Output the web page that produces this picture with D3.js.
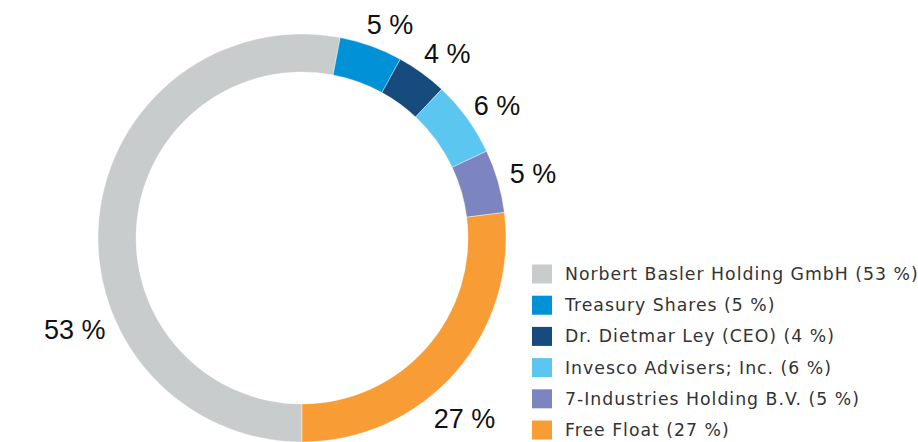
<!DOCTYPE html>
<html lang="en">
<head>
<meta charset="utf-8">
<title>Shareholder structure</title>
<script src="https://d3js.org/d3.v7.min.js"></script>
<style>
  html, body { margin: 0; padding: 0; background: #fff; }
  .slice-label { font-family: "Liberation Sans", Arial, sans-serif; font-size: 27px; fill: #111; }
  .legend-text { font-family: "DejaVu Sans", sans-serif; font-size: 17.3px; fill: #333; letter-spacing: 1px; }
</style>
</head>
<body>
<script>
  // data
  const holders = ["Norbert Basler Holding GmbH", "Treasury Shares", "Dr. Dietmar Ley (CEO)",
                   "Invesco Advisers; Inc.", "7-Industries Holding B.V.", "Free Float"];
  const shares = [53, 5, 4, 6, 5, 27];
  const colors = ["#c8cccd", "#0091d6", "#174a7d", "#5bc6f0", "#7d85c0", "#f89d35"];

  const width = 918, height = 442;
  const cx = 302, cy = 238;
  const outerR = 204, innerR = 166;

  // label placement tweaks (degrees added to slice mid angle, radius)
  const labelShift = [-27.4, 2.6, 2.2, 1.7, 0.5, 6.6];
  const labelRadius = [245, 231, 235, 236, 240, 243];

  const svg = d3.select("body").append("svg")
      .attr("width", width)
      .attr("height", height);

  const pie = d3.pie()
      .sort(null)
      .value(d => d)
      .startAngle(Math.PI)
      .endAngle(3 * Math.PI);

  const arc = d3.arc().innerRadius(innerR).outerRadius(outerR);

  const g = svg.append("g").attr("transform", `translate(${cx},${cy})`);
  const arcs = pie(shares);

  g.selectAll("path")
    .data(arcs)
    .join("path")
      .attr("d", arc)
      .attr("fill", (d, i) => colors[i])
      .attr("stroke", "#fff")
      .attr("stroke-width", 0.4);

  g.selectAll("text")
    .data(arcs)
    .join("text")
      .attr("class", "slice-label")
      .attr("text-anchor", "middle")
      .attr("dy", "0.36em")
      .attr("x", (d, i) => {
        const a = (d.startAngle + d.endAngle) / 2 + labelShift[i] * Math.PI / 180;
        return labelRadius[i] * Math.sin(a);
      })
      .attr("y", (d, i) => {
        const a = (d.startAngle + d.endAngle) / 2 + labelShift[i] * Math.PI / 180;
        return -labelRadius[i] * Math.cos(a);
      })
      .text(d => d.data + " %");

  // legend
  const legendY = d3.scalePoint().domain(holders).range([274, 430]);

  const legend = svg.append("g").selectAll("g")
    .data(holders)
    .join("g")
      .attr("transform", d => `translate(532,${legendY(d)})`);

  legend.append("rect")
      .attr("x", 0).attr("y", -9.5)
      .attr("width", 20).attr("height", 19)
      .attr("fill", (d, i) => colors[i]);

  legend.append("text")
      .attr("class", "legend-text")
      .attr("x", 33)
      .attr("dy", "0.35em")
      .text((d, i) => `${d} (${shares[i]} %)`);
</script>
</body>
</html>
